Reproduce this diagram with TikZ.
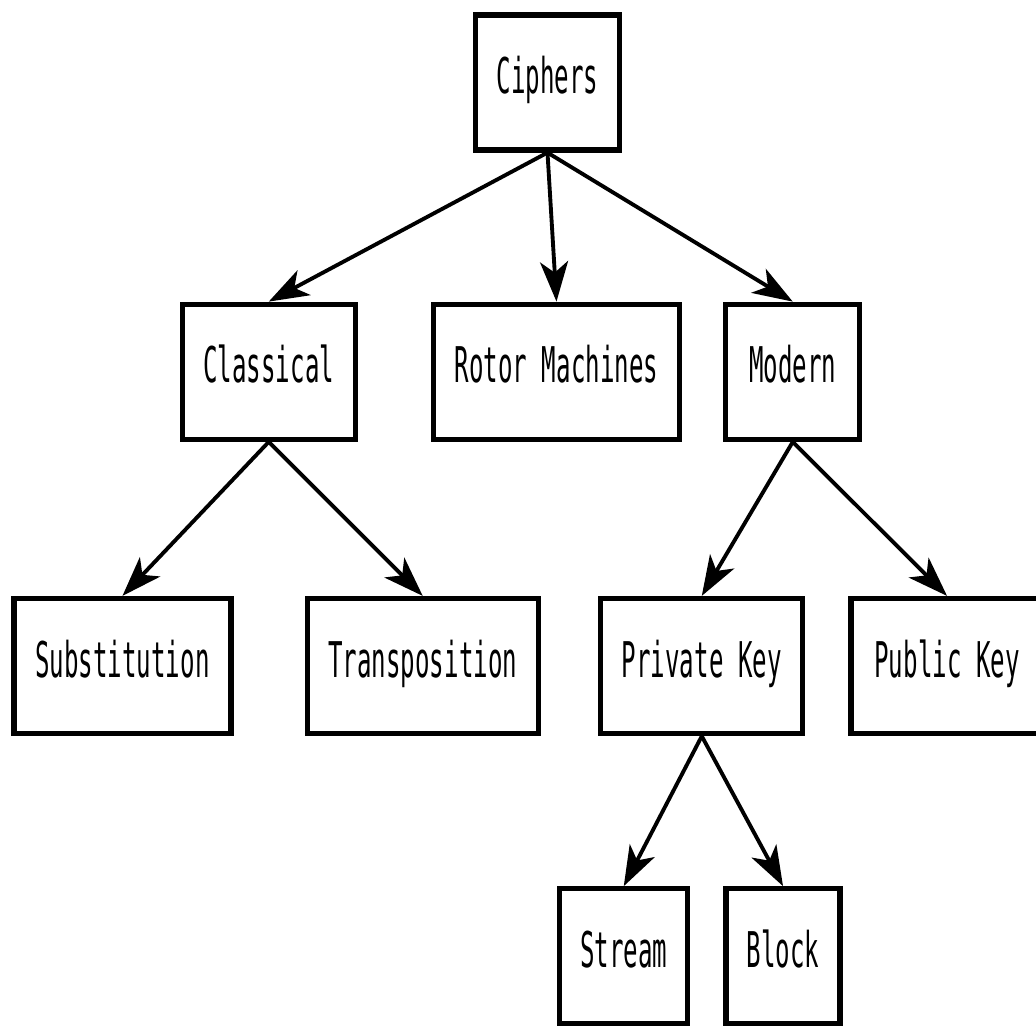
\documentclass[tikz,border=0pt]{standalone}
\usepackage{fontspec}
\newfontfamily\boxfont[FakeStretch=0.49]{DejaVu Sans Mono}
\usetikzlibrary{arrows.meta,positioning}

\begin{document}
\begin{tikzpicture}[-,>={Stealth[length=4mm,width=2.8mm,inset=1.1mm]},auto,node distance=1.5cm,
    box/.style={draw, line width=1.5pt, minimum height=1.35cm, inner xsep=0.2cm,
      text height=1.45ex, text depth=0pt, font=\boxfont\fontsize{14pt}{16pt}\selectfont},
    link/.style={->, line width=1.1pt}]
  \useasboundingbox (-5.475,0.825) rectangle (4.885,-9.435);
  \node (cip) [box, minimum width=1.44cm]                                    {Ciphers};
  \node (rot) [box, minimum width=2.46cm, below=1.49cm of cip, xshift=0.09cm] {Rotor Machines};
  \node (cla) [box, minimum width=1.73cm, left=0.73cm of rot]                 {Classical};
  \node (mod) [box, minimum width=1.34cm, right=0.41cm of rot]                {Modern};
  \node (tra) [box, minimum width=2.31cm, below=1.54cm of cla, xshift=1.54cm] {Transposition};
  \node (sub) [box, minimum width=2.17cm, left=0.71cm of tra]                 {Substitution};
  \node (pri) [box, minimum width=2.02cm, below=1.54cm of mod, xshift=-0.91cm] {Private Key};
  \node (pub) [box, minimum width=1.92cm, right=0.43cm of pri]                {Public Key};
  \node (str) [box, minimum width=1.28cm, below=1.5cm of pri, xshift=-0.78cm] {Stream};
  \node (blk) [box, minimum width=1.14cm, right=0.33cm of str]                {Block};
  \path[link] (cip.south) edge (cla.north)
                          edge (rot.north)
                          edge (mod.north);
  \path[link] (cla.south) edge (sub.north)
                          edge (tra.north);
  \path[link] (mod.south) edge (pri.north)
                          edge (pub.north);
  \path[link] (pri.south) edge (str.north)
                          edge (blk.north);
\end{tikzpicture}
\end{document}
